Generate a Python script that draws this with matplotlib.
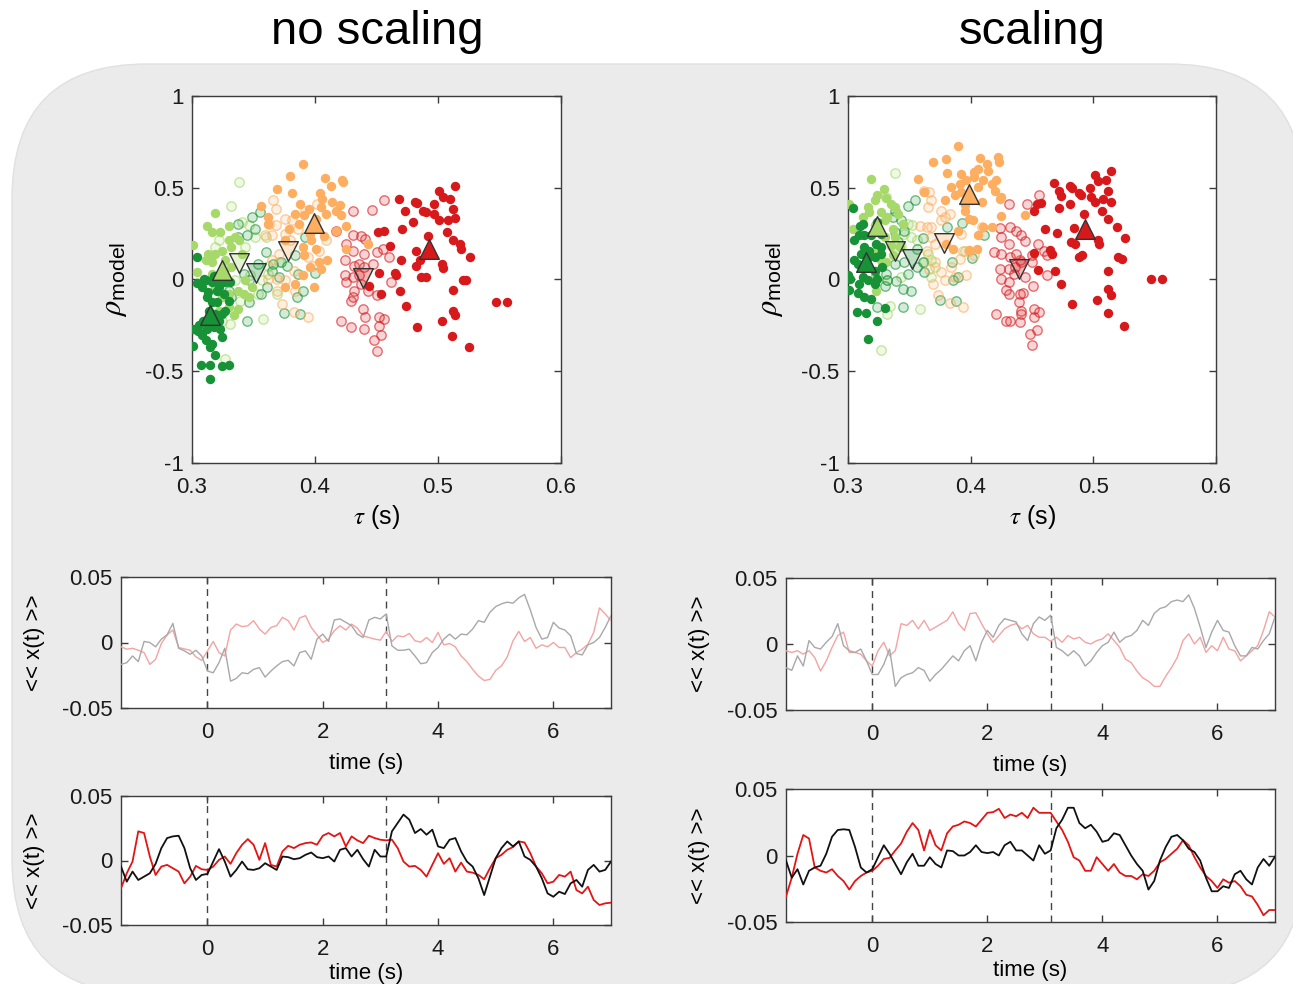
import numpy as np
import matplotlib
matplotlib.use("Agg")
import matplotlib.pyplot as plt
from matplotlib.colors import to_rgba
from matplotlib.patches import FancyBboxPatch
from matplotlib.transforms import IdentityTransform

plt.rcParams['font.family'] = ['Liberation Sans', 'DejaVu Sans']
plt.rcParams['mathtext.fontset'] = 'stix'

# ---------------- scatter data: tau (s) vs rho_model ----------------
DG = '#179236'   # dark green
LG = '#a6d96a'   # light green
OR = '#fdae61'   # orange
RD = '#d7191c'   # red

# "no scaling" panel
ns_dg_x = [0.304, 0.304, 0.311, 0.308, 0.316, 0.322, 0.327, 0.331, 0.312, 0.316, 0.314, 0.319, 0.324, 0.309,
           0.301, 0.305, 0.312, 0.318, 0.323, 0.324, 0.311, 0.316, 0.315, 0.308, 0.301, 0.319, 0.307, 0.315,
           0.324, 0.330, 0.315, 0.318, 0.323, 0.313, 0.320, 0.327, 0.306, 0.322, 0.330, 0.310, 0.320, 0.326]
ns_dg_y = [0.122, -0.02, -0.005, -0.04, -0.015, -0.04, -0.015, -0.015, -0.095, -0.124, -0.169, -0.187, -0.187,
           -0.224, -0.27, -0.278, -0.27, -0.26, -0.27, -0.315, -0.33, -0.35, -0.37, -0.305, -0.365, -0.414,
           -0.466, -0.466, -0.47, -0.466, -0.54, 0.02, -0.005, -0.07, -0.124, -0.169, -0.25, -0.224, -0.115,
           0.0, -0.06, -0.08]
ns_lg_x = [0.301, 0.304, 0.312, 0.319, 0.316, 0.323, 0.330, 0.313, 0.319, 0.324, 0.330, 0.335, 0.332, 0.341,
           0.311, 0.316, 0.327, 0.332, 0.338, 0.343, 0.337, 0.330, 0.324, 0.330, 0.337, 0.334, 0.322, 0.319,
           0.342, 0.346, 0.349, 0.323, 0.316]
ns_lg_y = [0.19, 0.04, 0.29, 0.364, 0.258, 0.258, 0.29, 0.14, 0.14, 0.158, 0.213, 0.231, 0.176, 0.14, 0.104,
           0.095, 0.104, 0.067, 0.213, -0.005, -0.06, -0.078, -0.096, -0.151, -0.16, -0.196, -0.169, -0.042,
           -0.078, -0.096, -0.042, -0.005, 0.031]
ns_lgo_x = [0.338, 0.332, 0.341, 0.346, 0.351, 0.362, 0.369, 0.358, 0.331, 0.327, 0.335, 0.347, 0.357, 0.343,
            0.322, 0.319, 0.360, 0.362, 0.371, 0.354, 0.339, 0.324]
ns_lgo_y = [0.531, 0.398, 0.313, 0.295, 0.231, 0.031, -0.078, -0.215, -0.242, -0.433, -0.005, 0.022, -0.005,
            0.176, 0.213, 0.176, 0.231, 0.076, 0.095, -0.078, -0.115, -0.224]
ns_dgo_x = [0.355, 0.349, 0.337, 0.345, 0.351, 0.360, 0.354, 0.366, 0.372, 0.377, 0.384, 0.392, 0.400, 0.386,
            0.385, 0.390, 0.375, 0.388, 0.361, 0.356, 0.346, 0.345, 0.342, 0.346, 0.330, 0.332, 0.327, 0.337,
            0.365, 0.371]
ns_dgo_y = [0.367, 0.34, 0.30, 0.24, 0.276, 0.149, 0.085, 0.082, 0.095, 0.076, 0.131, 0.231, 0.036, 0.031,
            -0.093, -0.064, -0.182, -0.187, -0.042, -0.078, -0.124, -0.224, 0.031, -0.005, -0.06, -0.096, 0.067,
            0.231, 0.049, 0.013]
ns_oro_x = [0.366, 0.368, 0.363, 0.368, 0.359, 0.365, 0.376, 0.381, 0.386, 0.376, 0.380, 0.371, 0.365, 0.369,
            0.376, 0.383, 0.394, 0.402, 0.373, 0.383, 0.394, 0.369, 0.384, 0.362, 0.398, 0.403, 0.409, 0.392]
ns_oro_y = [0.431, 0.385, 0.304, 0.295, 0.245, 0.245, 0.331, 0.322, 0.276, 0.249, 0.213, 0.14, 0.104, 0.004,
            -0.005, 0.049, 0.122, 0.413, -0.133, -0.175, -0.202, -0.06, -0.06, 0.004, 0.076, 0.158, 0.213, 0.376]
ns_or_x = [0.390, 0.380, 0.408, 0.413, 0.422, 0.423, 0.369, 0.381, 0.404, 0.406, 0.356, 0.388, 0.395, 0.414,
           0.420, 0.405, 0.384, 0.391, 0.401, 0.409, 0.417, 0.421, 0.362, 0.425, 0.417, 0.407, 0.379, 0.396,
           0.397, 0.390, 0.376, 0.401, 0.391, 0.403, 0.410, 0.405, 0.396, 0.390, 0.376, 0.399, 0.384, 0.443,
           0.425, 0.362, 0.387]
ns_or_y = [0.631, 0.564, 0.553, 0.507, 0.54, 0.529, 0.495, 0.473, 0.471, 0.44, 0.40, 0.409, 0.385, 0.422, 0.404,
           0.395, 0.358, 0.349, 0.331, 0.358, 0.376, 0.349, 0.34, 0.291, 0.267, 0.235, 0.276, 0.249, 0.213, 0.176,
           0.213, 0.167, 0.131, 0.095, 0.104, 0.058, 0.067, 0.022, -0.042, -0.042, -0.024, 0.195, 0.167, 0.304,
           0.304]
ns_rdo_x = [0.456, 0.446, 0.431, 0.417, 0.431, 0.437, 0.441, 0.425, 0.431, 0.424, 0.432, 0.436, 0.440, 0.447,
            0.455, 0.450, 0.460, 0.462, 0.431, 0.424, 0.425, 0.437, 0.443, 0.450, 0.432, 0.431, 0.429, 0.439,
            0.421, 0.429, 0.440, 0.452, 0.456, 0.452, 0.454, 0.448, 0.450, 0.441, 0.436, 0.440]
ns_rdo_y = [0.431, 0.38, 0.373, 0.264, 0.245, 0.235, 0.222, 0.195, 0.158, 0.104, 0.076, 0.085, 0.067, 0.085,
            0.167, 0.149, 0.122, -0.015, 0.013, 0.022, -0.015, -0.024, -0.06, -0.087, -0.06, -0.096, -0.115,
            -0.16, -0.224, -0.26, -0.269, -0.205, -0.215, -0.251, -0.305, -0.329, -0.387, -0.205, 0.022, 0.14]
ns_rd_x = [0.468, 0.481, 0.483, 0.501, 0.504, 0.510, 0.514, 0.497, 0.512, 0.514, 0.473, 0.488, 0.490, 0.497,
           0.501, 0.508, 0.480, 0.451, 0.456, 0.471, 0.492, 0.507, 0.512, 0.518, 0.519, 0.461, 0.526, 0.470,
           0.482, 0.485, 0.482, 0.503, 0.504, 0.465, 0.466, 0.452, 0.444, 0.454, 0.469, 0.486, 0.490, 0.520,
           0.523, 0.512, 0.474, 0.512, 0.514, 0.547, 0.556, 0.483, 0.503, 0.511, 0.525]
ns_rd_y = [0.44, 0.422, 0.418, 0.485, 0.449, 0.436, 0.509, 0.413, 0.385, 0.336, 0.376, 0.376, 0.367, 0.358,
           0.322, 0.325, 0.313, 0.258, 0.267, 0.276, 0.236, 0.258, 0.213, 0.195, 0.167, 0.182, 0.122, 0.107,
           0.158, 0.104, 0.076, 0.085, 0.062, 0.035, 0.022, 0.035, -0.033, -0.078, -0.065, 0.013, 0.013, -0.005,
           -0.005, -0.056, -0.147, -0.173, -0.196, -0.125, -0.125, -0.26, -0.224, -0.307, -0.369]
# group means (up = filled groups, down = open groups): dg, lg, lgo, dgo, oro, or, rdo, rd
ns_mean_x = [0.315, 0.324, 0.338, 0.352, 0.378, 0.399, 0.439, 0.493]
ns_mean_y = [-0.196, 0.05, 0.09, 0.035, 0.155, 0.31, 0.007, 0.167]

# "scaling" panel
sc_dg_x = [0.304, 0.310, 0.312, 0.309, 0.313, 0.319, 0.323, 0.324, 0.327, 0.323, 0.313, 0.317, 0.311, 0.316,
           0.322, 0.327, 0.308, 0.305, 0.300, 0.302, 0.312, 0.316, 0.322, 0.324, 0.301, 0.308, 0.313, 0.319,
           0.307, 0.315, 0.324, 0.330, 0.316, 0.327, 0.305, 0.322, 0.328, 0.309]
sc_dg_y = [0.391, 0.291, 0.304, 0.24, 0.245, 0.24, 0.276, 0.313, 0.249, 0.195, 0.176, 0.158, 0.14, 0.122, 0.122,
           0.14, 0.085, 0.104, 0.022, 0.004, 0.013, -0.005, -0.024, 0.004, -0.056, -0.073, -0.096, -0.105,
           -0.178, -0.182, -0.224, -0.156, -0.324, 0.176, 0.213, 0.049, 0.067, -0.024]
sc_lg_x = [0.319, 0.329, 0.301, 0.324, 0.331, 0.316, 0.322, 0.335, 0.338, 0.312, 0.317, 0.327, 0.332, 0.341,
           0.322, 0.330, 0.337, 0.345, 0.304, 0.311, 0.330, 0.338, 0.335, 0.327, 0.331, 0.337, 0.322, 0.323,
           0.328, 0.324, 0.342]
sc_lg_y = [0.549, 0.491, 0.409, 0.458, 0.445, 0.395, 0.431, 0.409, 0.395, 0.34, 0.367, 0.367, 0.34, 0.358, 0.295,
           0.322, 0.276, 0.304, 0.276, 0.24, 0.231, 0.231, 0.185, 0.104, 0.095, 0.131, 0.031, -0.06, 0.076,
           0.167, 0.176]
sc_lgo_x = [0.338, 0.331, 0.349, 0.352, 0.356, 0.362, 0.368, 0.371, 0.365, 0.351, 0.343, 0.334, 0.327, 0.332,
            0.359, 0.343, 0.332, 0.395, 0.346, 0.368]
sc_lgo_y = [0.58, 0.449, 0.304, 0.295, 0.213, 0.095, 0.104, 0.067, 0.14, 0.231, 0.185, -0.142, -0.384, -0.187,
            -0.16, 0.013, -0.005, 0.158, 0.249, 0.013]
sc_dgo_x = [0.355, 0.349, 0.338, 0.337, 0.343, 0.346, 0.338, 0.341, 0.361, 0.356, 0.361, 0.356, 0.349, 0.346,
            0.338, 0.331, 0.332, 0.330, 0.339, 0.345, 0.351, 0.324, 0.345, 0.362, 0.375, 0.388, 0.386, 0.390,
            0.381, 0.393, 0.411, 0.401, 0.385]
sc_dgo_y = [0.431, 0.40, 0.371, 0.34, 0.325, 0.267, 0.258, 0.204, 0.227, 0.167, 0.095, 0.067, 0.031, 0.095,
            0.085, 0.031, -0.005, -0.033, -0.009, -0.051, -0.064, -0.151, -0.151, 0.04, -0.109, -0.115, -0.005,
            0.013, 0.285, 0.309, 0.245, 0.116, 0.095]
sc_oro_x = [0.366, 0.362, 0.368, 0.365, 0.359, 0.364, 0.368, 0.376, 0.379, 0.383, 0.376, 0.368, 0.371, 0.364,
            0.371, 0.366, 0.369, 0.376, 0.379, 0.387, 0.384, 0.396, 0.394, 0.399, 0.403, 0.391, 0.373, 0.383,
            0.394, 0.409, 0.392]
sc_oro_y = [0.476, 0.485, 0.431, 0.395, 0.291, 0.285, 0.285, 0.376, 0.34, 0.358, 0.322, 0.231, 0.195, 0.158,
            0.095, 0.058, -0.027, 0.04, -0.005, 0.013, 0.067, 0.022, 0.158, 0.158, 0.131, 0.113, -0.087, -0.129,
            -0.151, 0.285, 0.249]
sc_or_x = [0.390, 0.380, 0.369, 0.408, 0.413, 0.422, 0.423, 0.406, 0.403, 0.414, 0.357, 0.381, 0.392, 0.384,
           0.391, 0.396, 0.403, 0.410, 0.417, 0.421, 0.387, 0.392, 0.406, 0.420, 0.425, 0.379, 0.362, 0.395,
           0.401, 0.409, 0.395, 0.399, 0.402, 0.425, 0.417, 0.410, 0.406, 0.390, 0.405, 0.399, 0.444, 0.386,
           0.380, 0.424]
sc_or_y = [0.725, 0.658, 0.64, 0.664, 0.627, 0.667, 0.64, 0.604, 0.585, 0.591, 0.545, 0.582, 0.576, 0.504, 0.522,
           0.54, 0.558, 0.54, 0.522, 0.54, 0.458, 0.476, 0.504, 0.485, 0.449, 0.431, 0.476, 0.404, 0.431, 0.422,
           0.376, 0.331, 0.322, 0.344, 0.285, 0.285, 0.24, 0.267, 0.167, 0.162, 0.349, 0.167, 0.195, 0.44]
sc_rdo_x = [0.456, 0.446, 0.431, 0.424, 0.432, 0.437, 0.441, 0.444, 0.425, 0.431, 0.419, 0.425, 0.432, 0.437,
            0.440, 0.450, 0.455, 0.460, 0.462, 0.424, 0.431, 0.435, 0.436, 0.441, 0.444, 0.450, 0.431, 0.425,
            0.429, 0.431, 0.440, 0.443, 0.462, 0.451, 0.439, 0.441, 0.421, 0.429, 0.432, 0.440, 0.452, 0.456,
            0.452, 0.454, 0.448, 0.450, 0.441]
sc_rdo_y = [0.458, 0.409, 0.409, 0.282, 0.285, 0.267, 0.245, 0.209, 0.231, 0.191, 0.149, 0.14, 0.122, 0.14,
            0.104, 0.131, 0.195, 0.158, 0.131, 0.058, 0.058, 0.031, 0.067, 0.095, 0.013, 0.095, -0.015, 0.004,
            -0.056, -0.078, -0.078, -0.075, 0.022, -0.033, -0.124, -0.169, -0.187, -0.224, -0.224, -0.233, -0.16,
            -0.178, -0.205, -0.275, -0.296, -0.356, -0.187]
sc_rd_x = [0.468, 0.472, 0.474, 0.481, 0.483, 0.488, 0.490, 0.497, 0.498, 0.501, 0.504, 0.510, 0.514, 0.508,
           0.512, 0.514, 0.501, 0.481, 0.472, 0.452, 0.454, 0.457, 0.492, 0.507, 0.512, 0.519, 0.526, 0.461,
           0.470, 0.484, 0.482, 0.485, 0.488, 0.491, 0.504, 0.505, 0.465, 0.466, 0.452, 0.455, 0.469, 0.474,
           0.512, 0.520, 0.523, 0.503, 0.483, 0.512, 0.514, 0.512, 0.525, 0.547, 0.556]
sc_rd_y = [0.525, 0.485, 0.453, 0.507, 0.50, 0.471, 0.458, 0.50, 0.449, 0.571, 0.535, 0.54, 0.591, 0.44, 0.48,
           0.422, 0.422, 0.409, 0.389, 0.371, 0.413, 0.418, 0.355, 0.373, 0.331, 0.285, 0.227, 0.273, 0.253,
           0.28, 0.204, 0.195, 0.122, 0.131, 0.213, 0.195, 0.162, 0.14, 0.144, 0.053, 0.045, -0.027, 0.045,
           0.122, 0.113, -0.111, -0.133, -0.051, -0.087, -0.182, -0.255, 0.0, 0.0]
sc_mean_x = [0.315, 0.324, 0.338, 0.352, 0.378, 0.399, 0.439, 0.493]
sc_mean_y = [0.095, 0.291, 0.158, 0.113, 0.2, 0.467, 0.055, 0.276]

# ---------------- time courses <<x(t)>> ----------------
t = np.linspace(-1.5, 7.0, 86)   # sample times, 0.1 s apart
t_cue = [0.0, 3.1]

ns_pink = [-0.0033, -0.0051, -0.0044, -0.0059, -0.0077, -0.0167, -0.0128, -0.0008, 0.0059, 0.0095,
           -0.0038, -0.0049, -0.0059, -0.011, -0.0136, -0.0064, 0.0008, -0.0077, -0.0103, 0.0095,
           0.0141, 0.0121, 0.0128, 0.0167, 0.0103, 0.0064, 0.0115, 0.0128, 0.0192, 0.0167,
           0.0095, 0.0187, 0.0205, 0.0115, 0.0059, 0.0, 0.0026, 0.009, 0.0128, 0.0095,
           0.0141, 0.011, 0.0051, 0.0038, 0.0026, 0.0018, 0.0085, 0.0008, 0.0051, 0.0044,
           0.0069, 0.0013, 0.0003, 0.0038, 0.0, 0.0077, -0.0018, -0.0008, -0.0033, -0.0103,
           -0.0146, -0.0205, -0.0256, -0.029, -0.0282, -0.0213, -0.0179, -0.011, 0.0013, 0.0085,
           0.0008, 0.0038, -0.0044, -0.0018, -0.0033, 0.0, -0.0038, -0.0038, -0.0115, -0.0077,
           -0.0051, -0.0013, 0.0077, 0.0264, 0.0218, 0.0167]
ns_gray = [-0.0167, -0.0154, -0.0103, -0.0146, 0.0008, 0.0, -0.0033, 0.0026, 0.0059, 0.0146,
           -0.0044, -0.0064, -0.009, -0.0059, -0.0103, -0.0218, -0.0231, -0.0154, -0.0044, -0.0295,
           -0.0274, -0.0231, -0.0238, -0.0205, -0.0192, -0.0264, -0.0218, -0.0179, -0.0146, -0.0136,
           -0.0179, -0.0077, -0.0064, -0.0128, 0.0026, 0.0064, 0.0008, 0.0172, 0.018, 0.0154,
           0.0128, 0.0064, 0.0038, 0.0172, 0.0192, 0.018, 0.0218, -0.0026, -0.0059, -0.0059,
           -0.0051, -0.0103, -0.0162, -0.0154, -0.0077, -0.0038, 0.0026, 0.0064, 0.0026, 0.0064,
           0.0059, 0.0103, 0.0167, 0.0154, 0.0231, 0.0274, 0.0295, 0.0308, 0.03, 0.0341,
           0.0367, 0.0249, 0.0115, 0.0026, 0.0038, 0.0154, 0.011, 0.0095, 0.0051, -0.0085,
           -0.0095, -0.0018, 0.0, 0.0038, 0.0115, 0.0205]
ns_red = [-0.0216, -0.0099, -0.0008, 0.0226, 0.0213, 0.0031, -0.0112, -0.0047, -0.0034, -0.006,
          -0.0086, -0.0177, -0.0125, -0.0042, -0.0068, -0.0073, -0.0047, 0.0005, 0.0031, -0.0026,
          0.0057, 0.0122, 0.0166, 0.0122, 0.0005, 0.0135, -0.0034, -0.0047, 0.007, 0.0114,
          0.0096, 0.0122, 0.0135, 0.014, 0.0122, 0.0192, 0.0213, 0.0187, 0.0213, 0.0109,
          0.0187, 0.0156, 0.0135, 0.0192, 0.0174, 0.0161, 0.0156, 0.0161, 0.0096, -0.0008,
          -0.0047, -0.0042, -0.0073, -0.0125, -0.0034, 0.0057, -0.0026, 0.0018, -0.0086, -0.0016,
          -0.0086, -0.0094, -0.0112, -0.0145, -0.006, 0.0018, 0.0044, 0.0083, 0.0104, 0.0148,
          0.014, 0.0057, -0.0047, -0.0099, -0.0177, -0.0164, -0.0112, -0.0125, -0.0086, -0.0229,
          -0.0255, -0.0203, -0.0306, -0.0345, -0.0332, -0.0327]
ns_black = [-0.0047, -0.0164, -0.0086, -0.0151, -0.0125, -0.0099, -0.0026, 0.0096, 0.0174, 0.0187,
            0.0192, 0.0096, -0.006, -0.0151, -0.0112, -0.0104, -0.0008, 0.0088, -0.0008, -0.0125,
            -0.0073, -0.0008, -0.0068, -0.0073, -0.006, -0.0021, -0.0047, -0.0073, 0.0031, 0.0026,
            0.001, 0.0018, 0.0044, 0.0062, 0.0026, 0.0018, 0.0031, -0.0008, 0.0083, 0.0096,
            0.0031, 0.0083, 0.001, -0.0047, 0.0083, 0.0031, 0.0031, 0.0226, 0.0291, 0.0356,
            0.0317, 0.0213, 0.0244, 0.02, 0.0239, 0.0109, 0.0096, 0.0161, 0.0174, 0.007,
            -0.0008, -0.0047, -0.0138, -0.0268, -0.0125, 0.0018, 0.0096, 0.0148, 0.0109, 0.0148,
            0.0031, 0.0005, -0.0047, -0.0138, -0.0255, -0.0281, -0.0242, -0.026, -0.0177, -0.0151,
            -0.0203, -0.0073, -0.0034, -0.0086, -0.0073, -0.0008]

sc_pink = [-0.0051, -0.0064, -0.0051, -0.0077, -0.0051, -0.0103, -0.0205, -0.0128, -0.0026, 0.0064,
           0.009, -0.0064, -0.0064, -0.0077, -0.0128, -0.0167, -0.0051, 0.0013, -0.009, -0.0051,
           0.0154, 0.0141, 0.0179, 0.0115, 0.0179, 0.0103, 0.0128, 0.0154, 0.0179, 0.0244,
           0.0154, 0.0103, 0.0231, 0.0236, 0.0154, 0.0077, 0.0013, 0.0064, 0.0115, 0.0141,
           0.0154, 0.0115, 0.0141, 0.0077, 0.0051, 0.0051, 0.0021, 0.0051, 0.0013, 0.0064,
           0.0038, 0.0051, 0.0013, 0.0, 0.0026, 0.0038, 0.0077, 0.0026, -0.0026, -0.0115,
           -0.0141, -0.0205, -0.0256, -0.0282, -0.0321, -0.0321, -0.0244, -0.0179, -0.0103, 0.0026,
           0.0077, 0.0, 0.0051, -0.0064, -0.0013, -0.0051, 0.0051, -0.0038, -0.0051, -0.0128,
           -0.009, -0.0051, -0.0013, 0.0103, 0.0244, 0.0205]
sc_gray = [-0.0179, -0.02, -0.009, -0.0167, 0.0026, -0.0026, -0.0038, 0.0013, 0.0056, 0.0154,
           -0.0013, -0.0051, -0.0064, -0.0038, -0.0128, -0.0231, -0.0231, -0.0154, -0.0038, -0.0321,
           -0.0256, -0.0231, -0.0218, -0.0179, -0.02, -0.0282, -0.0231, -0.0192, -0.0141, -0.009,
           -0.0128, -0.0051, -0.0013, -0.0128, 0.0013, 0.0103, 0.0051, 0.0141, 0.0192, 0.0179,
           0.0167, 0.0077, 0.0026, 0.0154, 0.0205, 0.0179, 0.0218, -0.0026, -0.0051, -0.009,
           -0.0051, -0.009, -0.0167, -0.0128, -0.0064, -0.0013, 0.0013, 0.009, 0.0013, 0.0051,
           0.0064, 0.0103, 0.0179, 0.0141, 0.0231, 0.0269, 0.0282, 0.0321, 0.0333, 0.0321,
           0.0372, 0.0269, 0.0128, -0.0026, 0.009, 0.0179, 0.0103, 0.009, -0.0013, -0.009,
           -0.009, -0.0026, -0.0038, 0.0026, 0.0077, 0.0205]
sc_red = [-0.0308, -0.0167, 0.0013, 0.0154, 0.0128, -0.009, -0.0115, -0.0128, -0.0103, -0.0154,
          -0.0192, -0.0256, -0.0192, -0.0154, -0.0128, -0.0115, -0.0077, -0.0026, -0.0018, 0.0038,
          0.009, 0.0179, 0.0244, 0.0192, 0.0038, 0.0192, 0.0077, 0.0038, 0.0167, 0.0218,
          0.0231, 0.0256, 0.0244, 0.0218, 0.0269, 0.0321, 0.0326, 0.0351, 0.0282, 0.0308,
          0.0295, 0.0321, 0.0282, 0.0359, 0.0321, 0.0321, 0.0321, 0.0256, 0.0192, 0.0103,
          -0.0013, -0.0038, -0.0115, -0.0115, -0.0013, -0.0064, -0.0115, -0.0064, -0.0128, -0.0154,
          -0.0154, -0.0179, -0.0141, -0.0154, -0.0115, -0.0051, -0.0026, 0.0013, 0.0051, 0.0115,
          0.0077, -0.0013, -0.009, -0.0154, -0.0192, -0.0244, -0.0179, -0.0205, -0.0192, -0.0231,
          -0.0295, -0.0308, -0.0372, -0.0449, -0.041, -0.041]
sc_black = [-0.0038, -0.0167, -0.0103, -0.0218, -0.0115, -0.009, -0.0077, 0.0013, 0.0141, 0.0192,
            0.0197, 0.0192, 0.0064, -0.009, -0.0128, -0.0103, -0.0013, 0.0077, 0.0013, -0.0064,
            -0.0141, -0.0051, 0.0013, -0.0077, -0.0077, -0.0013, -0.0064, -0.009, 0.0038, 0.0033,
            0.0, 0.0, 0.0026, 0.0077, 0.0026, 0.0018, 0.0026, 0.0, 0.0077, 0.0103,
            0.0038, 0.0038, 0.0, -0.0038, 0.0077, 0.0013, 0.0038, 0.0205, 0.0269, 0.0359,
            0.0359, 0.0244, 0.0205, 0.0231, 0.0179, 0.0103, 0.0115, 0.0167, 0.0154, 0.0077,
            0.0, -0.0064, -0.0115, -0.0256, -0.0192, -0.0038, 0.0064, 0.0141, 0.0154, 0.0115,
            0.0051, 0.0026, -0.0038, -0.0167, -0.0269, -0.0269, -0.0231, -0.0244, -0.0141, -0.0115,
            -0.0179, -0.0218, -0.009, -0.0026, -0.0077, -0.0008]

AX_COLOR = '#3c3c3c'
W, H = 1293, 984


def style_axes(ax, xpad):
    for sp in ax.spines.values():
        sp.set_color(AX_COLOR)
        sp.set_linewidth(1.0)
    ax.tick_params(direction='in', top=True, right=True, length=5, width=1.0,
                   color=AX_COLOR, labelsize=16, labelcolor='#1a1a1a')
    ax.tick_params(axis='x', pad=xpad)
    ax.tick_params(axis='y', pad=6)
    ax.set_facecolor('white')


def scatter_panel(ax, groups, mean_x, mean_y):
    (lgo, dgo, oro, rdo, lg, dg, orr, rd) = groups
    for (xs, ys), c in zip([lgo, dgo, oro, rdo], [LG, DG, OR, RD]):
        ax.scatter(xs, ys, s=46, facecolors=[to_rgba(c, 0.18)], edgecolors=[to_rgba(c, 0.6)],
                   linewidths=1.0, zorder=2)
    for (xs, ys), c in zip([lg, dg, orr, rd], [LG, DG, OR, RD]):
        ax.scatter(xs, ys, s=46, color=c, linewidths=0, zorder=3)
    up_cols = {0: DG, 1: LG, 5: OR, 7: RD}
    down_cols = {2: LG, 3: DG, 4: OR, 6: RD}
    for i in range(len(mean_x)):
        if i in up_cols:
            ax.scatter(mean_x[i], mean_y[i], s=200, marker='^', color=up_cols[i],
                       edgecolors='#333333', linewidths=1.0, zorder=5)
        else:
            ax.scatter(mean_x[i], mean_y[i], s=200, marker='v', facecolors=[to_rgba(down_cols[i], 0.3)],
                       edgecolors='#333333', linewidths=1.0, zorder=5)
    ax.set_xlim(0.3, 0.6)
    ax.set_ylim(-1, 1)
    ax.set_xticks([0.3, 0.4, 0.5, 0.6])
    ax.set_xticklabels(['0.3', '0.4', '0.5', '0.6'])
    ax.set_yticks([-1, -0.5, 0, 0.5, 1])
    ax.set_yticklabels(['-1', '-0.5', '0', '0.5', '1'])
    style_axes(ax, 10)
    ax.set_xlabel(r'$\tau$ (s)', fontsize=18, labelpad=4)
    ax.set_ylabel(r'$\rho_{\mathregular{model}}$', fontsize=22)
    ax.yaxis.set_label_coords(-0.17, 0.5)


def time_panel(ax, y1, y2, c1, c2, lw, xlabpad):
    ax.plot(t, y1, color=c1, lw=lw, zorder=3)
    ax.plot(t, y2, color=c2, lw=lw, zorder=3)
    for tc in t_cue:
        ax.axvline(tc, color='#444444', lw=1.0, ls=(0, (5, 4)), zorder=2)
    ax.set_xlim(-1.5, 7.0)
    ax.set_ylim(-0.05, 0.05)
    ax.set_xticks([0, 2, 4, 6])
    ax.set_yticks([-0.05, 0, 0.05])
    ax.set_yticklabels(['-0.05', '0', '0.05'])
    style_axes(ax, 10)
    ax.set_xlabel('time (s)', fontsize=16, labelpad=xlabpad)
    ax.set_ylabel('<< x(t) >>', fontsize=16)
    ax.yaxis.set_label_coords(-0.155, 0.5)


def px_axes(fig, x0, y0, x1, y1):
    return fig.add_axes([x0 / W, 1 - y1 / H, (x1 - x0) / W, (y1 - y0) / H])


fig = plt.figure(figsize=(W / 100, H / 100), dpi=100)
fig.patch.set_facecolor('white')

bg = FancyBboxPatch((12, -10), 1292, 930, boxstyle='round,pad=0,rounding_size=135',
                    transform=IdentityTransform(), facecolor='#ebebeb', edgecolor='#e0e0e0',
                    linewidth=1.0, zorder=-5)
fig.add_artist(bg)

fig.text(377 / W, 1 - 32 / H, 'no scaling', ha='center', va='center', fontsize=34)
fig.text(1032 / W, 1 - 32 / H, 'scaling', ha='center', va='center', fontsize=34)

ax1 = px_axes(fig, 192, 96, 561, 463)
scatter_panel(ax1, [(ns_lgo_x, ns_lgo_y), (ns_dgo_x, ns_dgo_y), (ns_oro_x, ns_oro_y), (ns_rdo_x, ns_rdo_y),
                    (ns_lg_x, ns_lg_y), (ns_dg_x, ns_dg_y), (ns_or_x, ns_or_y), (ns_rd_x, ns_rd_y)],
              ns_mean_x, ns_mean_y)
ax2 = px_axes(fig, 848, 96, 1216, 463)
scatter_panel(ax2, [(sc_lgo_x, sc_lgo_y), (sc_dgo_x, sc_dgo_y), (sc_oro_x, sc_oro_y), (sc_rdo_x, sc_rdo_y),
                    (sc_lg_x, sc_lg_y), (sc_dg_x, sc_dg_y), (sc_or_x, sc_or_y), (sc_rd_x, sc_rd_y)],
              sc_mean_x, sc_mean_y)

ax3 = px_axes(fig, 121, 577, 611, 708)
time_panel(ax3, ns_pink, ns_gray, '#f4a3a3', '#a8a8a8', 1.0, 7)
ax4 = px_axes(fig, 121, 796, 611, 925)
time_panel(ax4, ns_red, ns_black, '#e31414', '#111111', 1.3, 2)
ax5 = px_axes(fig, 786, 578, 1275, 710)
time_panel(ax5, sc_pink, sc_gray, '#f4a3a3', '#a8a8a8', 1.0, 7)
ax6 = px_axes(fig, 786, 789, 1275, 922)
time_panel(ax6, sc_red, sc_black, '#e31414', '#111111', 1.3, 2)

fig.savefig('out.png', dpi=100)
